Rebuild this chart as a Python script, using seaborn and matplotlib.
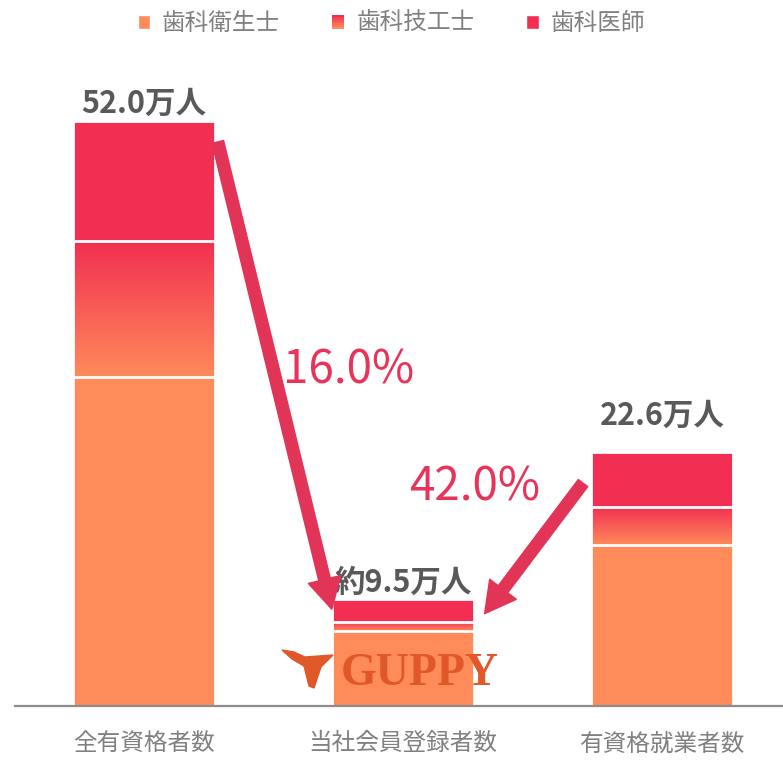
import matplotlib
matplotlib.use('Agg')
import matplotlib.pyplot as plt
import matplotlib.transforms as mtransforms
from matplotlib.patches import Rectangle, Polygon
from matplotlib.legend_handler import HandlerBase
from matplotlib.colors import to_rgb
import seaborn as sns
import pandas as pd
import numpy as np

# data (万人)
categories = ['全有資格者数', '当社会員登録者数', '有資格就業者数']
hygienist = [29.2, 6.7, 14.3]    # 歯科衛生士
technician = [12.1, 0.8, 3.4]    # 歯科技工士
dentist = [10.7, 2.0, 4.9]       # 歯科医師
total_labels = ['52.0万人', '約9.5万人', '22.6万人']
rate_labels = ['16.0%', '42.0%']
series_names = ['歯科衛生士', '歯科技工士', '歯科医師']

c_orange = '#FF8A5A'
c_red = '#F22E52'
c_arrow = '#E23456'
c_text = '#595959'
c_gray = '#808080'

sns.set_style('white')
plt.rcParams['font.family'] = ['Noto Sans CJK JP', 'DejaVu Sans']

df = pd.DataFrame({'cat': categories, 'hyg': hygienist, 'tech': technician, 'den': dentist})
df['lvl2'] = df['hyg'] + df['tech']
df['total'] = df['lvl2'] + df['den']

fig = plt.figure(figsize=(7.83, 7.61), dpi=100)
ax = fig.add_axes([15 / 783, 55 / 761, 768 / 783, 666 / 761])

# stacked bars drawn as overlapping cumulative bars
sns.barplot(data=df, x='cat', y='total', color=c_red, width=0.55, saturation=1,
            edgecolor='white', linewidth=2, ax=ax, zorder=1)
n = len(ax.patches)
sns.barplot(data=df, x='cat', y='lvl2', color=c_red, width=0.55, saturation=1,
            edgecolor='white', linewidth=2, ax=ax, zorder=3)
tech_patches = ax.patches[n:]
sns.barplot(data=df, x='cat', y='hyg', color=c_orange, width=0.55, saturation=1,
            edgecolor='white', linewidth=2, ax=ax, zorder=4)

# gradient fill for the technician segment
top_rgb = np.array(to_rgb(c_red))
bot_rgb = np.array(to_rgb(c_orange))
t = np.linspace(0, 1, 256)[:, None]
grad = (top_rgb[None, :] * (1 - t) + bot_rgb[None, :] * t)[:, None, :]
for p, h in zip(tech_patches, hygienist):
    x0, w = p.get_x(), p.get_width()
    y1 = p.get_height()
    p.set_facecolor('none')
    ax.imshow(grad, extent=(x0, x0 + w, h, y1), aspect='auto', origin='upper',
              zorder=2, interpolation='bilinear')

ax.set_xlim(-0.498, 2.467)
ax.set_ylim(0, 59.15)
ax.set_xlabel('')
ax.set_ylabel('')
ax.set_yticks([])
ax.tick_params(axis='x', length=0, pad=19, labelsize=17, labelcolor=c_gray)
for s in ['left', 'right', 'top']:
    ax.spines[s].set_visible(False)
ax.spines['bottom'].set_color('#8c8c8c')
ax.spines['bottom'].set_linewidth(1.6)
ax.spines['bottom'].set_zorder(6)

# total labels
offsets = [8, 7, 27]
for i, (lab, off) in enumerate(zip(total_labels, offsets)):
    ax.annotate(lab, (i, df['total'][i]), xytext=(0, off * 0.72), textcoords='offset points',
                ha='center', va='baseline', fontsize=22, fontweight='bold', color=c_text,
                zorder=7)

# arrows
arrow_style = 'simple, head_width=2.4, head_length=2.2, tail_width=0.85'
ax.annotate('', xy=(0.725, 8.6), xytext=(0.285, 50.1),
            arrowprops=dict(arrowstyle=arrow_style, mutation_scale=10, color=c_arrow,
                            shrinkA=0, shrinkB=0), zorder=8)
ax.annotate('', xy=(1.315, 8.2), xytext=(1.695, 19.8),
            arrowprops=dict(arrowstyle=arrow_style, mutation_scale=10, color=c_arrow,
                            shrinkA=0, shrinkB=0), zorder=8)

ax.text(0.79, 29.8, rate_labels[0], ha='center', va='center', fontsize=33,
        color='#E8335A', zorder=8)
ax.text(1.278, 19.4, rate_labels[1], ha='center', va='center', fontsize=33,
        color='#E8335A', zorder=8)

# GUPPY logo
ax.text(1.066, 2.8, 'GUPPY', ha='center', va='center', fontsize=33, fontweight='bold',
        family='Liberation Serif', color='#E0582A', zorder=8)
H = 761
fish = [(282, 650), (294, 652), (305, 657), (333, 655), (321, 667), (314, 688),
        (309, 686), (304, 666), (292, 659)]
fig.patches.append(Polygon([(x, H - y) for x, y in fish], closed=True, color='#E0582A',
                           transform=mtransforms.IdentityTransform(), figure=fig))


# legend with a striped gradient marker for technicians
class GradientHandler(HandlerBase):
    def create_artists(self, legend, orig_handle, xdescent, ydescent, width, height,
                       fontsize, trans):
        arts = []
        k = 8
        for j in range(k):
            f = j / (k - 1)
            col = bot_rgb * (1 - f) + top_rgb * f
            arts.append(Rectangle((-xdescent, -ydescent + height * j / k), width, height / k,
                                  facecolor=col, edgecolor='none', transform=trans))
        return arts


h1 = Rectangle((0, 0), 1, 1, facecolor=c_orange)
h2 = Rectangle((0, 0), 1, 1, facecolor=c_red)
h3 = Rectangle((0, 0), 1, 1, facecolor=c_red)
fig.legend([h1, h2, h3], series_names, loc='upper center', bbox_to_anchor=(0.5, 1.012),
           ncol=3, frameon=False, fontsize=17, labelcolor=c_gray, handlelength=0.52,
           handleheight=0.52, handletextpad=0.5, columnspacing=2.2,
           handler_map={h2: GradientHandler()})

fig.savefig('out.png', dpi=100)
